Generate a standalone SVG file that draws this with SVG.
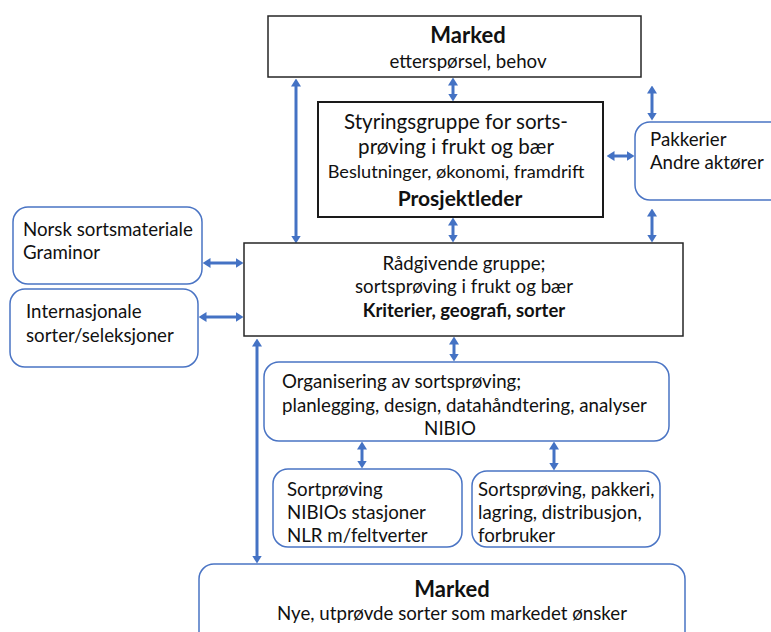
<svg xmlns="http://www.w3.org/2000/svg" width="771" height="632" viewBox="0 0 771 632">
<style>
  text { font-family: Lato, "Liberation Sans", sans-serif; fill: #111; font-size: 18.7px; }
  .b { font-weight: bold; }
  .big { font-size: 20.6px; }
  .mk { font-size: 22px; }
  .m { text-anchor: middle; }
  .sq { fill: #fff; stroke: #262626; stroke-width: 1.5; }
  .sq2 { fill: #fff; stroke: #1a1a1a; stroke-width: 2; }
  .rd { fill: #fff; stroke: #4a74c4; stroke-width: 1.5; }
  .ar { stroke: #4472c4; stroke-width: 3; fill: none; marker-start: url(#ah); marker-end: url(#ah); }
</style>
<defs>
  <marker id="ah" viewBox="0 0 8 10" refX="0.5" refY="5" markerWidth="8" markerHeight="10" markerUnits="userSpaceOnUse" orient="auto-start-reverse">
    <path d="M0,0 L8,5 L0,10 z" fill="#4472c4"/>
  </marker>
</defs>
<rect width="771" height="632" fill="#fff"/>

<g id="connectors">
  <line class="ar" x1="453" y1="85" x2="453" y2="94"/>
  <line class="ar" x1="296" y1="86" x2="296" y2="236"/>
  <line class="ar" x1="453" y1="225" x2="453" y2="235"/>
  <line class="ar" x1="652" y1="93" x2="652" y2="113"/>
  <line class="ar" x1="652" y1="216" x2="652" y2="235"/>
  <line class="ar" x1="614" y1="156" x2="627" y2="156"/>
  <line class="ar" x1="210" y1="263" x2="236" y2="263"/>
  <line class="ar" x1="206" y1="317" x2="236" y2="317"/>
  <line class="ar" x1="454" y1="344" x2="454" y2="354"/>
  <line class="ar" x1="362" y1="449" x2="362" y2="461"/>
  <line class="ar" x1="554" y1="449" x2="554" y2="463"/>
  <line class="ar" x1="257" y1="346" x2="257" y2="556"/>
</g>

<g id="marked-top">
  <rect class="sq" x="268" y="16" width="373" height="61"/>
  <text class="b mk m" x="468" y="43">Marked</text>
  <text class="m" x="468" y="68">etterspørsel, behov</text>
</g>

<g id="styringsgruppe">
  <rect class="sq2" x="318" y="102" width="285" height="115"/>
  <text class="big m" x="456" y="129">Styringsgruppe for sorts-</text>
  <text class="big m" x="456" y="154">prøving i frukt og bær</text>
  <text class="m" x="456" y="178" style="font-size:18.2px">Beslutninger, økonomi,  framdrift</text>
  <text class="b m" x="460" y="206" style="font-size:21px">Prosjektleder</text>
</g>

<g id="pakkerier">
  <rect class="rd" x="635" y="122" width="150" height="78" rx="15"/>
  <text x="650" y="146">Pakkerier</text>
  <text x="650" y="169">Andre aktører</text>
</g>

<g id="norsk">
  <rect class="rd" x="13" y="207" width="189" height="77" rx="15"/>
  <text x="23" y="236">Norsk sortsmateriale</text>
  <text x="23" y="259">Graminor</text>
</g>

<g id="internasjonale">
  <rect class="rd" x="10" y="289" width="188" height="78" rx="15"/>
  <text x="26" y="318">Internasjonale</text>
  <text x="26" y="342">sorter/seleksjoner</text>
</g>

<g id="radgivende">
  <rect class="sq" x="244" y="243" width="439" height="93"/>
  <text class="m" x="464" y="270">Rådgivende gruppe;</text>
  <text class="m" x="464" y="293">sortsprøving i frukt og bær</text>
  <text class="b m" x="464" y="317" style="font-size:18.5px">Kriterier, geografi, sorter</text>
</g>

<g id="organisering">
  <rect class="rd" x="264" y="362" width="405" height="79" rx="15"/>
  <text x="282" y="388">Organisering av sortsprøving;</text>
  <text x="282" y="412">planlegging, design, datahåndtering, analyser</text>
  <text class="m" x="450" y="435">NIBIO</text>
</g>

<g id="sortproving">
  <rect class="rd" x="273" y="469" width="189" height="78" rx="15"/>
  <text x="287" y="496">Sortprøving</text>
  <text x="287" y="519">NIBIOs stasjoner</text>
  <text x="287" y="542">NLR m/feltverter</text>
</g>

<g id="sortsproving-pakkeri">
  <rect class="rd" x="472" y="471" width="188" height="76" rx="15"/>
  <text x="478" y="496">Sortsprøving, pakkeri,</text>
  <text x="478" y="519">lagring, distribusjon,</text>
  <text x="478" y="542">forbruker</text>
</g>

<g id="marked-bottom">
  <rect class="rd" x="199" y="564" width="486" height="90" rx="15"/>
  <text class="b mk m" x="452" y="597">Marked</text>
  <text class="m" x="452" y="620">Nye, utprøvde sorter som markedet ønsker</text>
</g>
</svg>
